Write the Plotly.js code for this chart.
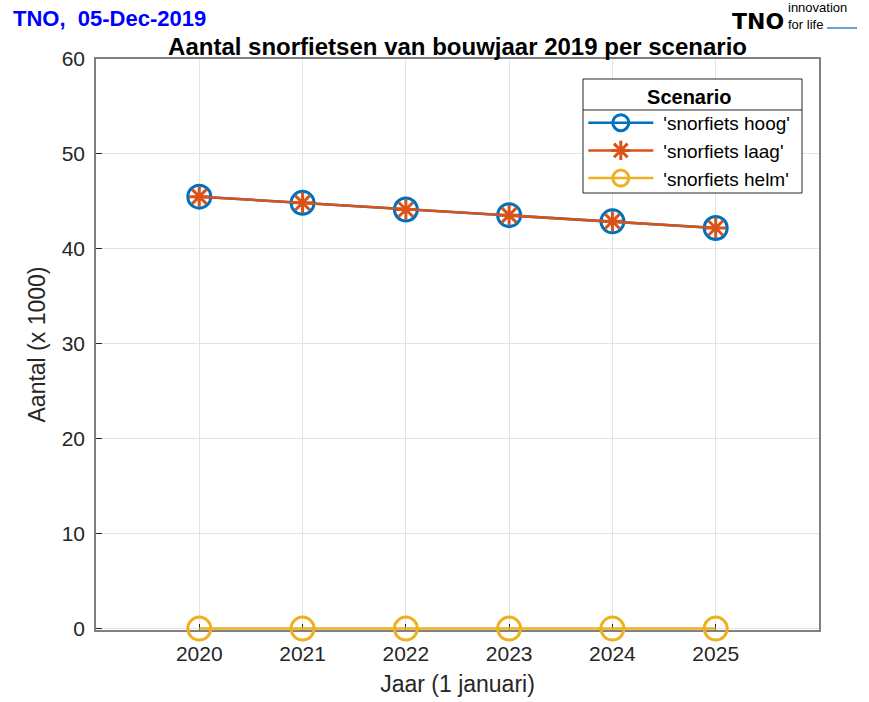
<!DOCTYPE html>
<html>
<head>
<meta charset="utf-8">
<script src="https://cdn.plot.ly/plotly-3.0.1.min.js"></script>
<style>
  body { margin: 0; background: #fff; }
  #plot1 { width: 869px; height: 702px; }
</style>
</head>
<body>
<div id="plot1"></div>
<script>
var years = [2020, 2021, 2022, 2023, 2024, 2025];
var hoog = [45.5, 44.85, 44.15, 43.55, 42.9, 42.2];
var laag = [45.5, 44.85, 44.15, 43.55, 42.9, 42.2];
var helm = [0, 0, 0, 0, 0, 0];

var names = ["'snorfiets hoog'", "'snorfiets laag'", "'snorfiets helm'"];
var yTicks = [0, 10, 20, 30, 40, 50, 60];

var font = 'Liberation Sans, Arial, sans-serif';

var trace1 = {
  x: years,
  y: hoog,
  mode: 'lines+markers',
  type: 'scatter',
  name: names[0],
  line: {color: '#0072BD', width: 2.5},
  marker: {symbol: 'circle-open', size: 23, color: '#0072BD', line: {width: 3, color: '#0072BD'}}
};

var trace2 = {
  x: years,
  y: laag,
  mode: 'lines+markers',
  type: 'scatter',
  name: names[1],
  line: {color: '#D95319', width: 2.5},
  marker: {symbol: 'asterisk-open', size: 17, color: '#D95319', line: {width: 3, color: '#D95319'}}
};

var trace3 = {
  x: years,
  y: helm,
  mode: 'lines+markers',
  type: 'scatter',
  name: names[2],
  cliponaxis: false,
  line: {color: '#EDB120', width: 2.5},
  marker: {symbol: 'circle-open', size: 23, color: '#EDB120', line: {width: 3, color: '#EDB120'}}
};

var data = [trace1, trace2, trace3];

var layout = {
  width: 869,
  height: 702,
  margin: {l: 96, r: 50, t: 59, b: 72},
  paper_bgcolor: '#fff',
  plot_bgcolor: '#fff',
  font: {family: font, color: '#262626'},
  showlegend: true,
  title: {
    text: '<b>Aantal snorfietsen van bouwjaar 2019 per scenario</b>',
    font: {size: 24, color: '#000', family: font},
    x: 0.5265, xanchor: 'center',
    y: 0.934, yanchor: 'middle'
  },
  xaxis: {
    title: {text: 'Jaar (1 januari)', font: {size: 23, color: '#262626'}, standoff: 12},
    range: [2019, 2026],
    tickvals: years,
    ticktext: years.map(String),
    tickfont: {size: 21, color: '#262626'},
    ticklabelstandoff: 4,
    ticks: 'inside', ticklen: 6, tickcolor: '#262626',
    showgrid: true, gridcolor: '#e3e3e3', gridwidth: 1,
    showline: true, linecolor: '#808080', linewidth: 1.5, mirror: true,
    zeroline: false, layer: 'below traces'
  },
  yaxis: {
    title: {text: 'Aantal (x 1000)', font: {size: 23, color: '#262626'}, standoff: 10},
    range: [-0.15, 60],
    tickvals: yTicks,
    tickfont: {size: 21, color: '#262626'},
    ticklabelstandoff: 5,
    ticks: 'inside', ticklen: 6, tickcolor: '#262626',
    showgrid: true, gridcolor: '#e3e3e3', gridwidth: 1,
    showline: true, linecolor: '#808080', linewidth: 1.5, mirror: true,
    zeroline: false, layer: 'below traces'
  },
  legend: {
    x: 0.674, xanchor: 'left',
    y: 0.967, yanchor: 'top',
    bgcolor: 'rgba(0,0,0,0)',
    borderwidth: 0,
    font: {size: 19, color: '#000'},
    title: {text: '<b>Scenario</b>', side: 'top center', font: {size: 20, color: '#000'}},
    itemwidth: 70,
    tracegroupgap: 0
  },
  shapes: [
    // legend frame with header separator
    {type: 'rect', xref: 'paper', yref: 'paper', layer: 'above',
     x0: 0.6736, x1: 0.9765, y0: 0.7653, y1: 0.965,
     fillcolor: '#fff', line: {color: '#262626', width: 1}},
    {type: 'line', xref: 'paper', yref: 'paper', layer: 'above',
     x0: 0.6736, x1: 0.9765, y0: 0.9107, y1: 0.9107,
     line: {color: '#262626', width: 1}},
    // logo bar
    {type: 'rect', xref: 'paper', yref: 'paper', x0: 1.011, x1: 1.0526, y0: 1.0525, y1: 1.056,
     fillcolor: '#6a9fd4', line: {width: 0}}
  ],
  annotations: [
    {text: '<b>TNO,  05-Dec-2019</b>', xref: 'paper', yref: 'paper', x: -0.117, y: 1.0718,
     xanchor: 'left', yanchor: 'middle', showarrow: false, font: {size: 22, color: '#0000ff'}},
    {text: '<b>TNO</b>', xref: 'paper', yref: 'paper', x: 0.954, y: 1.066,
     xanchor: 'right', yanchor: 'middle', showarrow: false,
     font: {size: 22, color: '#000', family: 'DejaVu Sans, sans-serif'}},
    {text: 'innovation<br>for life', xref: 'paper', yref: 'paper', x: 0.9545, y: 1.0745,
     xanchor: 'left', yanchor: 'middle', align: 'left', showarrow: false,
     font: {size: 13, color: '#000'}}
  ]
};

Plotly.newPlot('plot1', data, layout, {displayModeBar: false}).then(function (gd) {
  // stretch the legend sample lines like the MATLAB legend
  var lines = gd.querySelectorAll('.legend .legendlines path');
  lines.forEach(function (p) { p.setAttribute('d', 'M5,0h65'); });
  var pts = gd.querySelectorAll('.legend .legendpoints path');
  pts.forEach(function (p) { p.setAttribute('transform', 'translate(37.5,0)'); });
});
</script>
</body>
</html>
